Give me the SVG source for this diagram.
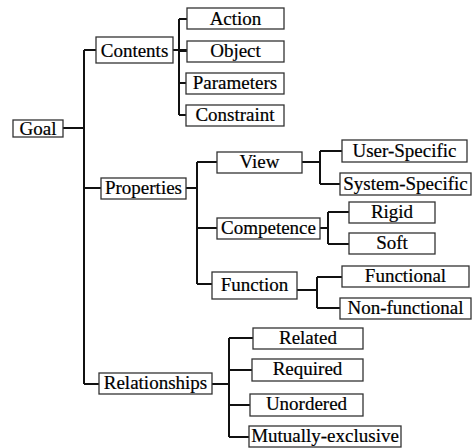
<svg xmlns="http://www.w3.org/2000/svg" width="473" height="448" viewBox="0 0 473 448">
<style>
.b{fill:#fff;stroke:#333;stroke-width:1.3}
.t{font-size:19px;fill:#000;stroke:#000;stroke-width:0.2;text-anchor:middle}
.c{fill:none;stroke:#111;stroke-width:2}
</style>
<rect width="473" height="448" fill="#fff"/>
<g id="connectors">
<path class="c" d="M63 128H84M84 50V384M84 50H96M84 188H101M84 384H99"/>
<path class="c" d="M173 50H187M179 19V115M179 19H187M179 51H187M179 83H186M179 115H186"/>
<path class="c" d="M186 188H197M197 162V284M197 162H217M197 228H217M197 284H212"/>
<path class="c" d="M302 162H320M320 151V184M320 151H342M320 184H340"/>
<path class="c" d="M320 228H328M328 212V244M328 212H349M328 244H349"/>
<path class="c" d="M297 290H317M317 277V308M317 277H342M317 308H340"/>
<path class="c" d="M212 384H229M229 338V437M229 338H253M229 370H252M229 405H250M229 437H249"/>
</g>
<g id="goal"><rect class="b" x="13" y="120" width="50" height="17"/><text class="t" font-family="Liberation Serif" x="38" y="135">Goal</text></g>
<g id="contents"><rect class="b" x="96" y="37" width="77" height="26"/><text class="t" font-family="Liberation Serif" x="134.5" y="57">Contents</text></g>
<g id="action"><rect class="b" x="187" y="8" width="97" height="21"/><text class="t" font-family="Liberation Serif" x="235.5" y="25">Action</text></g>
<g id="object"><rect class="b" x="187" y="41" width="97" height="21"/><text class="t" font-family="Liberation Serif" x="235.5" y="57">Object</text></g>
<g id="parameters"><rect class="b" x="186" y="73" width="98" height="21"/><text class="t" font-family="Liberation Serif" x="235" y="89">Parameters</text></g>
<g id="constraint"><rect class="b" x="186" y="105" width="98" height="21"/><text class="t" font-family="Liberation Serif" x="235" y="121">Constraint</text></g>
<g id="properties"><rect class="b" x="101" y="178" width="85" height="21"/><text class="t" font-family="Liberation Serif" x="143.5" y="194">Properties</text></g>
<g id="view"><rect class="b" x="217" y="152" width="85" height="21"/><text class="t" font-family="Liberation Serif" x="259.5" y="168">View</text></g>
<g id="user-specific"><rect class="b" x="342" y="140" width="125" height="22"/><text class="t" font-family="Liberation Serif" x="404.5" y="157">User-Specific</text></g>
<g id="system-specific"><rect class="b" x="340" y="173" width="131" height="22"/><text class="t" font-family="Liberation Serif" x="405.5" y="190">System-Specific</text></g>
<g id="competence"><rect class="b" x="217" y="218" width="103" height="21"/><text class="t" font-family="Liberation Serif" x="268.5" y="234">Competence</text></g>
<g id="rigid"><rect class="b" x="349" y="202" width="86" height="21"/><text class="t" font-family="Liberation Serif" x="392" y="218">Rigid</text></g>
<g id="soft"><rect class="b" x="349" y="233" width="86" height="21"/><text class="t" font-family="Liberation Serif" x="392" y="249">Soft</text></g>
<g id="function"><rect class="b" x="212" y="272" width="85" height="27"/><text class="t" font-family="Liberation Serif" x="254.5" y="291">Function</text></g>
<g id="functional"><rect class="b" x="342" y="266" width="127" height="21"/><text class="t" font-family="Liberation Serif" x="405.5" y="282">Functional</text></g>
<g id="non-functional"><rect class="b" x="340" y="298" width="131" height="21"/><text class="t" font-family="Liberation Serif" x="405.5" y="314">Non-functional</text></g>
<g id="relationships"><rect class="b" x="99" y="373" width="113" height="21"/><text class="t" font-family="Liberation Serif" x="155.5" y="389">Relationships</text></g>
<g id="related"><rect class="b" x="253" y="328" width="110" height="21"/><text class="t" font-family="Liberation Serif" x="308" y="344">Related</text></g>
<g id="required"><rect class="b" x="252" y="359" width="111" height="22"/><text class="t" font-family="Liberation Serif" x="307.5" y="375">Required</text></g>
<g id="unordered"><rect class="b" x="250" y="394" width="113" height="22"/><text class="t" font-family="Liberation Serif" x="306.5" y="410">Unordered</text></g>
<g id="mutually-exclusive"><rect class="b" x="249" y="426" width="152" height="21"/><text class="t" font-family="Liberation Serif" x="325" y="442">Mutually-exclusive</text></g>
</svg>
